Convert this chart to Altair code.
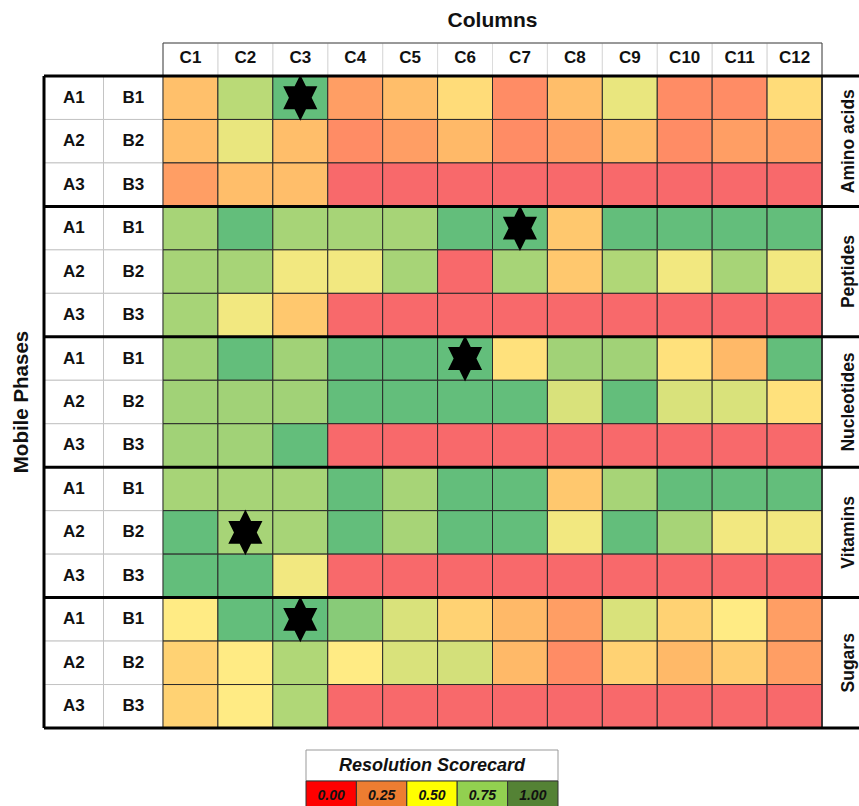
import math
import altair as alt
import pandas as pd

# ---------------- data ----------------
groups = ["Amino acids", "Peptides", "Nucleotides", "Vitamins", "Sugars"]
a_labels = ["A1", "A2", "A3"]
b_labels = ["B1", "B2", "B3"]
columns = ["C1", "C2", "C3", "C4", "C5", "C6", "C7", "C8", "C9", "C10", "C11", "C12"]

amino_acids = [
    [0.33, 0.72, 1.00, 0.20, 0.32, 0.44, 0.13, 0.32, 0.57, 0.13, 0.13, 0.44],
    [0.32, 0.57, 0.32, 0.13, 0.20, 0.30, 0.13, 0.20, 0.30, 0.13, 0.20, 0.20],
    [0.20, 0.32, 0.32, 0.00, 0.00, 0.00, 0.00, 0.00, 0.00, 0.00, 0.00, 0.00],
]
peptides = [
    [0.78, 1.00, 0.78, 0.78, 0.78, 1.00, 1.00, 0.36, 1.00, 1.00, 1.00, 1.00],
    [0.78, 0.78, 0.54, 0.54, 0.78, 0.00, 0.78, 0.36, 0.75, 0.54, 0.78, 0.54],
    [0.78, 0.54, 0.36, 0.00, 0.00, 0.00, 0.00, 0.00, 0.00, 0.00, 0.00, 0.00],
]
nucleotides = [
    [0.80, 1.00, 0.80, 1.00, 1.00, 1.00, 0.46, 0.80, 0.80, 0.46, 0.30, 1.00],
    [0.80, 0.80, 0.80, 1.00, 1.00, 1.00, 1.00, 0.62, 1.00, 0.62, 0.62, 0.46],
    [0.80, 0.80, 1.00, 0.00, 0.00, 0.00, 0.00, 0.00, 0.00, 0.00, 0.00, 0.00],
]
vitamins = [
    [0.78, 0.78, 0.78, 1.00, 0.78, 1.00, 1.00, 0.36, 0.78, 1.00, 1.00, 1.00],
    [1.00, 0.78, 0.78, 1.00, 0.78, 1.00, 1.00, 0.54, 1.00, 0.78, 0.54, 0.54],
    [1.00, 1.00, 0.54, 0.00, 0.00, 0.00, 0.00, 0.00, 0.00, 0.00, 0.00, 0.00],
]
sugars = [
    [0.50, 1.00, 1.00, 0.88, 0.62, 0.40, 0.30, 0.20, 0.62, 0.40, 0.50, 0.20],
    [0.40, 0.50, 0.75, 0.50, 0.62, 0.64, 0.30, 0.13, 0.40, 0.30, 0.38, 0.20],
    [0.40, 0.50, 0.75, 0.00, 0.00, 0.00, 0.00, 0.00, 0.00, 0.00, 0.00, 0.00],
]
scores = [amino_acids, peptides, nucleotides, vitamins, sugars]

star_groups = ["Amino acids", "Peptides", "Nucleotides", "Vitamins", "Sugars"]
star_rows = [0, 0, 0, 1, 0]
star_cols = ["C3", "C7", "C6", "C2", "C3"]

legend_labels = ["0.00", "0.25", "0.50", "0.75", "1.00"]

# ---------------- tables ----------------
row_ids = [f"{g}|{i}" for g in groups for i in range(3)]

cells = pd.DataFrame([
    {"row": f"{g}|{i}", "col": c, "score": v}
    for g, block in zip(groups, scores)
    for i, vals in enumerate(block)
    for c, v in zip(columns, vals)
])
labels = pd.DataFrame(
    [{"row": f"{g}|{i}", "lcol": "A", "text": a_labels[i]} for g in groups for i in range(3)]
    + [{"row": f"{g}|{i}", "lcol": "B", "text": b_labels[i]} for g in groups for i in range(3)]
)
stars = pd.DataFrame({
    "row": [f"{g}|{r}" for g, r in zip(star_groups, star_rows)],
    "col": star_cols,
})
header = pd.DataFrame({"col": columns})
group_lab = pd.DataFrame({"row": [f"{g}|1" for g in groups], "name": groups})
group_top = pd.DataFrame({"row": [f"{g}|0" for g in groups]})
group_bottom = pd.DataFrame({"row": [row_ids[-1]]})
legend_df = pd.DataFrame({"lab": legend_labels})
one = pd.DataFrame({"k": [0]})

# ---------------- layout / style ----------------
FONT = "Liberation Sans"
W, H = 659, 652
LEFT_W = 119
STAR_PTS = []
for k in range(12):
    ang = math.radians(-90 + 30 * k)
    r = 1.0 if k % 2 == 0 else 1 / math.sqrt(3)
    STAR_PTS.append((0.86 * r * math.cos(ang), r * math.sin(ang)))
STAR = "M" + " L".join(f"{x:.3f},{y:.3f}" for x, y in STAR_PTS) + " Z"

yscale = alt.Scale(type="band", domain=row_ids, paddingInner=0, paddingOuter=0)
Y = alt.Y("row:N", scale=yscale, axis=None)
col_scale = alt.Scale(type="band", domain=columns, paddingInner=0, paddingOuter=0)
XC = alt.X("col:N", scale=col_scale, axis=None)
lab_scale = alt.Scale(type="band", domain=["A", "B"], range=[-LEFT_W, 0],
                      paddingInner=0, paddingOuter=0)
XL = alt.X("lcol:N", scale=lab_scale, axis=None)
leg_scale = alt.Scale(type="band", domain=legend_labels, range=[143, 395],
                      paddingInner=0, paddingOuter=0)
XG = alt.X("lab:N", scale=leg_scale, axis=None)

bold = dict(font=FONT, fontWeight="bold", color="#111")

label_rects = alt.Chart(labels).mark_rect(fill="white", stroke="#c4c4c4", strokeWidth=1).encode(x=XL, y=Y)
label_text = alt.Chart(labels).mark_text(fontSize=17, baseline="middle", **bold).encode(x=XL, y=Y, text="text:N")

grid = alt.Chart(cells).mark_rect(stroke="#2a2a2a", strokeWidth=1).encode(
    x=XC, y=Y,
    color=alt.Color("score:Q",
                    scale=alt.Scale(domain=[0, 0.5, 1], range=["#F8696B", "#FFEB84", "#63BE7B"]),
                    legend=None),
)

head_rects = alt.Chart(header).mark_rect(fillOpacity=0, stroke="#dcdcdc", strokeWidth=1).encode(
    x=XC, y=alt.value(-33), y2=alt.value(0))
head_box = alt.Chart(one).mark_rect(fillOpacity=0, stroke="#444", strokeWidth=1).encode(
    x=alt.value(0), x2=alt.value(W), y=alt.value(-33), y2=alt.value(0))
head_text = alt.Chart(header).mark_text(fontSize=17, baseline="middle", **bold).encode(
    x=XC, y=alt.value(-18), text="col:N")
col_title = alt.Chart(one).mark_text(fontSize=21, baseline="middle", text="Columns", **bold).encode(
    x=alt.value(W / 2), y=alt.value(-55))

group_text = alt.Chart(group_lab).mark_text(fontSize=17.5, angle=270, baseline="middle", **bold).encode(
    x=alt.value(W + 27), y=Y, text="name:N")
mp_title = alt.Chart(one).mark_text(fontSize=20.5, angle=270, baseline="middle", text="Mobile Phases", **bold).encode(
    x=alt.value(-141), y=alt.value(H / 2))

rules_top = alt.Chart(group_top).mark_rule(color="black", strokeWidth=3).encode(
    y=alt.Y("row:N", scale=yscale, axis=None, bandPosition=0),
    x=alt.value(-LEFT_W), x2=alt.value(W + 45))
rules_bot = alt.Chart(group_bottom).mark_rule(color="black", strokeWidth=3).encode(
    y=alt.Y("row:N", scale=yscale, axis=None, bandPosition=1),
    x=alt.value(-LEFT_W), x2=alt.value(W + 45))
left_border = alt.Chart(one).mark_rule(color="black", strokeWidth=3).encode(
    x=alt.value(-LEFT_W), y=alt.value(0), y2=alt.value(H))
grid_right = alt.Chart(one).mark_rule(color="#222", strokeWidth=1.5).encode(
    x=alt.value(W), y=alt.value(0), y2=alt.value(H))

star_marks = alt.Chart(stars).mark_point(shape=STAR, filled=True, size=2100, color="black",
                                         opacity=1, strokeWidth=0).encode(x=XC, y=Y)

leg_title_box = alt.Chart(one).mark_rect(fill="white", stroke="#999", strokeWidth=1).encode(
    x=alt.value(143), x2=alt.value(395), y=alt.value(674), y2=alt.value(705))
leg_title = alt.Chart(one).mark_text(fontSize=18, fontStyle="italic", baseline="middle",
                                     text="Resolution Scorecard", **bold).encode(
    x=alt.value(269), y=alt.value(690))
leg_cells = alt.Chart(legend_df).mark_rect(stroke="#333", strokeWidth=1).encode(
    x=XG, y=alt.value(705), y2=alt.value(735),
    color=alt.Color("lab:N",
                    scale=alt.Scale(domain=legend_labels,
                                    range=["#FF0000", "#ED7D31", "#FFFF00", "#92D050", "#548235"]),
                    legend=None))
leg_text = alt.Chart(legend_df).mark_text(fontSize=14, fontStyle="italic", baseline="middle", **bold).encode(
    x=XG, y=alt.value(720), text="lab:N")

chart = alt.layer(
    label_rects, label_text, grid, head_rects, head_box, head_text, col_title,
    group_text, mp_title, grid_right, rules_top, rules_bot, left_border, star_marks,
    leg_title_box, leg_title, leg_cells, leg_text,
).resolve_scale(
    x="independent", color="independent"
).properties(
    width=W, height=H,
    autosize=alt.AutoSizeParams(type="none"),
    padding={"left": 163, "top": 76, "right": 37, "bottom": 78},
).configure_view(stroke=None).configure(background="white")

chart.save("out.html", embed_options={"renderer": "svg", "actions": False})
